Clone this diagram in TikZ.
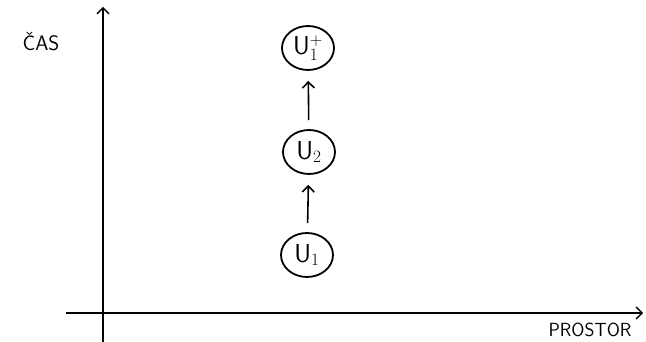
\documentclass[tikz,border=0pt]{standalone}
\usetikzlibrary{shapes.geometric,arrows.meta}
\begin{document}
\begin{tikzpicture}[x=1pt,y=1pt, >={Straight Barb[length=6pt,width=12pt]},
  stav/.style={draw, ellipse, line width=1.8pt, minimum width=52pt, minimum height=44pt, inner sep=0pt, font=\fontsize{26}{28}\selectfont\sffamily}]
\useasboundingbox (0,0) rectangle (646,342);
% osy
\draw [line width=1.4pt, ->] (66,29)--(643,29);
\draw [line width=1.4pt, ->] (103,0)--(103,335);
\node (cas) at (41,300) {\fontsize{21}{24}\selectfont\sffamily ČAS};
\node (prostor) at (590,12) {\fontsize{19}{22}\selectfont\sffamily PROSTOR};
% stavy
\node [stav] (u1) at (307,87) {U$_1$};
\node [stav] (u2) at (309,190) {U$_2$};
\node [stav] (u1p) at (308,294) {U$_1^{+}$};
\draw [line width=1.6pt, ->, shorten <=9pt, shorten >=10pt] (u1)--(u2);
\draw [line width=1.6pt, ->, shorten <=9pt, shorten >=10pt] (u2)--(u1p);
\end{tikzpicture}
\end{document}
